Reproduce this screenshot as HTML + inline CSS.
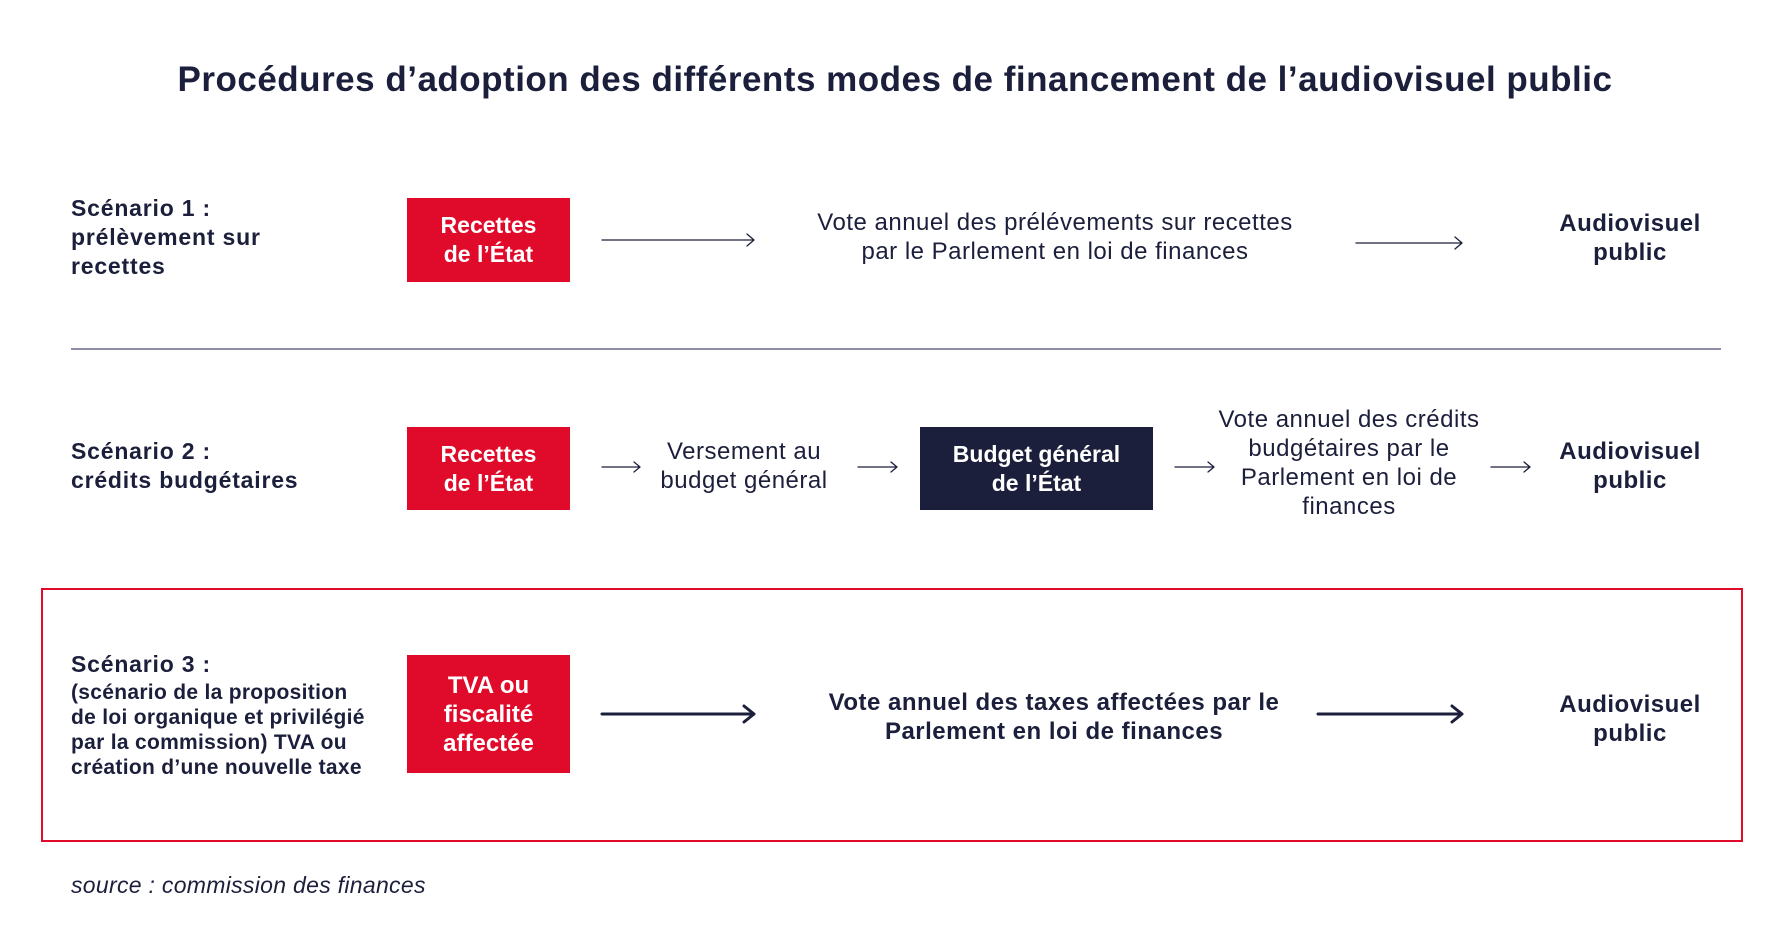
<!DOCTYPE html>
<html><head><meta charset="utf-8"><style>
html,body{margin:0;padding:0;background:#fff;}
body{width:1786px;height:945px;position:relative;overflow:hidden;font-family:"Liberation Sans",sans-serif;color:#1c1f3b;}
.a{position:absolute;}
.c{position:absolute;text-align:center;transform:translateX(-50%);white-space:nowrap;}
.b{font-weight:bold;}
.box{position:absolute;display:flex;align-items:center;justify-content:center;text-align:center;color:#fff;font-weight:bold;font-size:23px;line-height:29px;}
.red{background:#e00b2a;}
.dark{background:#1c1f3b;}
.t{font-size:23px;line-height:29px;letter-spacing:0.5px;}
svg{position:absolute;left:0;top:0;}
</style></head><body>
<div class="c b" style="left:895px;top:60px;font-size:35px;letter-spacing:0.5px;">Procédures d’adoption des différents modes de financement de l’audiovisuel public</div>

<div class="a b t" style="left:71px;top:194px;letter-spacing:0.8px;">Scénario 1 :<br>prélèvement sur<br>recettes</div>
<div class="box red" style="left:407px;top:198px;width:163px;height:84px;">Recettes<br>de l’État</div>
<div class="c t" style="left:1055px;top:208px;font-size:24px;">Vote annuel des prélévements sur recettes<br>par le Parlement en loi de finances</div>
<div class="c b t" style="left:1630px;top:209px;font-size:24px;">Audiovisuel<br>public</div>

<div class="a" style="left:71px;top:348px;width:1650px;height:2px;background:#8c8fa3;"></div>

<div class="a b t" style="left:71px;top:437px;letter-spacing:0.8px;">Scénario 2 :<br>crédits budgétaires</div>
<div class="box red" style="left:407px;top:427px;width:163px;height:83px;">Recettes<br>de l’État</div>
<div class="c t" style="left:744px;top:437px;font-size:24px;">Versement au<br>budget général</div>
<div class="box dark" style="left:920px;top:427px;width:233px;height:83px;">Budget général<br>de l’État</div>
<div class="c t" style="left:1349px;top:405px;font-size:24px;">Vote annuel des crédits<br>budgétaires par le<br>Parlement en loi de<br>finances</div>
<div class="c b t" style="left:1630px;top:437px;font-size:24px;">Audiovisuel<br>public</div>

<div class="a" style="left:41px;top:588px;width:1702px;height:254px;border:2px solid #e00b2a;box-sizing:border-box;"></div>
<div class="a b" style="left:71px;top:650px;font-size:23px;line-height:29px;letter-spacing:0.8px;">Scénario 3 :</div>
<div class="a b" style="left:71px;top:680px;font-size:21px;line-height:25px;letter-spacing:0.3px;">(scénario de la proposition<br>de loi organique et privilégié<br>par la commission) TVA ou<br>création d’une nouvelle taxe</div>
<div class="box red" style="left:407px;top:655px;width:163px;height:118px;font-size:24px;">TVA ou<br>fiscalité<br>affectée</div>
<div class="c b t" style="left:1054px;top:688px;font-size:24px;">Vote annuel des taxes affectées par le<br>Parlement en loi de finances</div>
<div class="c b t" style="left:1630px;top:690px;font-size:24px;">Audiovisuel<br>public</div>

<div class="a" style="left:71px;top:872px;font-size:23px;font-style:italic;letter-spacing:0.3px;">source : commission des finances</div>

<svg width="1786" height="945" fill="none" stroke="#1c1f3b" stroke-linecap="round" stroke-linejoin="round">
<g stroke-width="1.3">
<path d="M602 240H754M747 234l7 6-7 6"/>
<path d="M1356 243H1462M1455 237l7 6-7 6"/>
<path d="M602 467H640M634 462l6 5-6 5"/>
<path d="M858 467H897M891 462l6 5-6 5"/>
<path d="M1175 467H1214M1208 462l6 5-6 5"/>
<path d="M1491 467H1530M1524 462l6 5-6 5"/>
</g>
<g stroke-width="3">
<path d="M602 714H754M744 706l10 8-10 8"/>
<path d="M1318 714H1462M1452 706l10 8-10 8"/>
</g>
</svg>
</body></html>
